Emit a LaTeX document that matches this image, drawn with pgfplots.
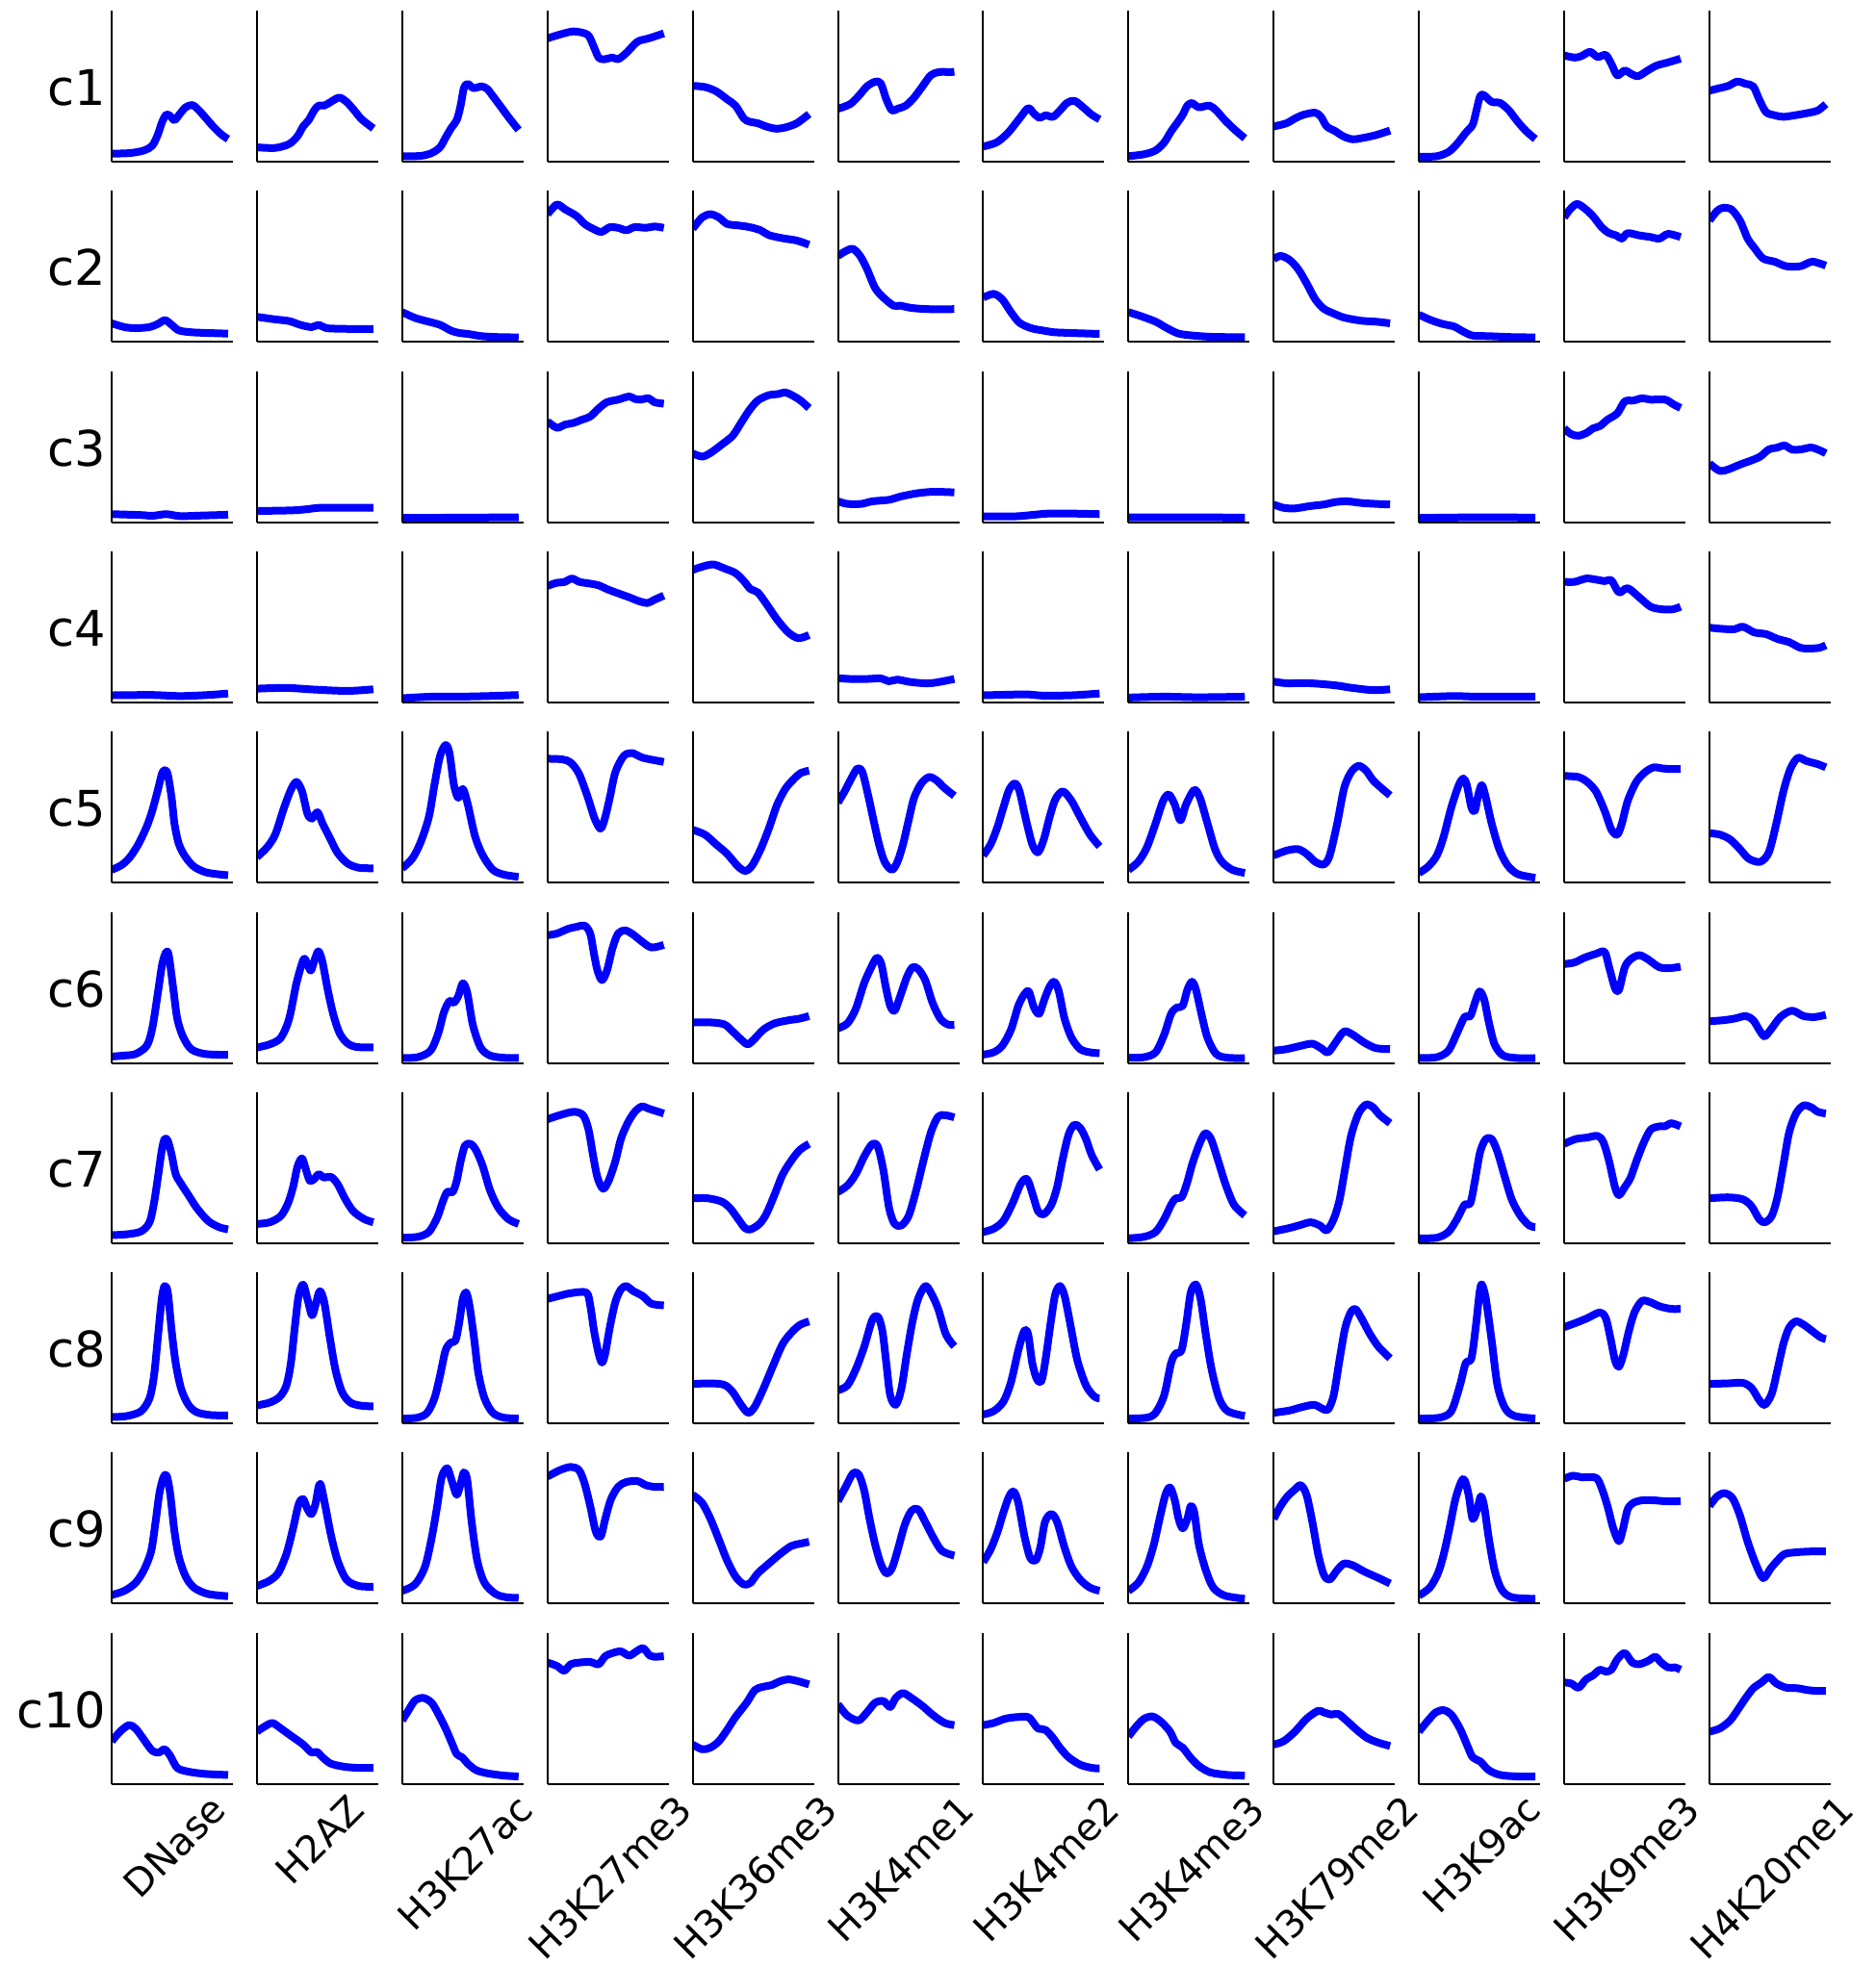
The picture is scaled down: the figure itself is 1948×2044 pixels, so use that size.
\documentclass[border=0pt]{standalone}
\usepackage{fontspec}
\setmainfont{DejaVu Sans}
\usepackage{pgfplots}
\pgfplotsset{compat=1.18}

\newcommand{\rowfont}{\fontsize{51}{60}\selectfont}
\newcommand{\colfont}{\fontsize{39.5}{47}\selectfont}

\pgfplotsset{
  panel/.style={
    scale only axis, width=126pt, height=157pt, anchor=north west,
    xmin=0, xmax=100, ymin=0, ymax=100,
    axis lines*=left, axis line style={black, line width=2pt, -},
    xtick=\empty, ytick=\empty, axis on top,
  },
  trace/.style={blue, line width=8pt, smooth, tension=0.5, mark=none, line join=round},
}

% one small panel: #1 column, #2 row, #3 profile (position in %, signal in % of panel height)
\newcommand{\panel}[3]{%
  \begin{axis}[panel, at={({(116+150.9*#1)*1pt},{-(11+187.3*#2)*1pt})}]
    \addplot[trace] coordinates {#3};
  \end{axis}}

\newcommand{\rowlab}[2]{%
  \node[anchor=base east, inner sep=0pt, font=\rowfont] at (110.5pt,{-(11+78.5+187.3*#1+20)*1pt}) {#2};}

% rotated column name, centred under its panel: #1 column, #2 text width in em, #3 text
\newcommand{\collab}[3]{%
  \node[rotate=45, anchor=center, inner sep=0pt, text height=30pt, text depth=9.5pt, font=\colfont]
    at ({(116+68+150.9*#1)*1pt},{-(1862+(#2/2+0.5)*0.7071*39.5)*1pt}) {#3};}

\begin{document}
\begin{tikzpicture}
\path[use as bounding box] (0,0) rectangle (1948pt,-2044pt);

% ---------------- c1
\panel{0}{0}{(0,5.3) (15.1,5.7) (26.6,7.4) (33.5,10.6) (38.1,18) (41.7,26.5) (45,31.1) (48.2,30.3) (51.8,27.5) (56.4,31.8) (61,36) (66.5,37.5) (71.1,34.7) (77.1,29.4) (83.9,23.1) (90.8,17.8) (96,15)}
\panel{1}{0}{(0,9.5) (15.1,9.1) (26.6,11.7) (33.5,16.9) (38.1,23.3) (42.7,27.5) (47.2,33.9) (50.9,37.1) (55.5,37.1) (61,39.6) (67.9,42.4) (73.9,39.6) (80.3,33.9) (86.2,28.2) (96,22)}
\panel{2}{0}{(0,3.6) (15.1,3.8) (24.3,5.7) (31.2,9.5) (35.8,15.9) (40.4,22.2) (45,27.5) (48.2,37.1) (50.9,48.7) (54.1,51.5) (58.7,48.7) (65.6,49.8) (70.2,48.1) (74.8,43.4) (81.7,36) (88.5,28.6) (96,21)}
\panel{3}{0}{(0,81.6) (10.1,84.1) (21.6,86.2) (33,84.1) (37.6,77.3) (42.2,68.9) (46.8,67.8) (53.7,68.9) (58.3,67.8) (65.1,72) (74.3,79.4) (83.5,81.6) (96,84.9)}
\panel{4}{0}{(0,50.2) (10.1,49.4) (19.3,46.6) (28.4,41.3) (35.3,37.1) (42.2,28.6) (46.8,26.5) (53.7,25.4) (60.6,23.3) (68.8,21.8) (76.6,22.7) (85.8,25.4) (96,31.5)}
\panel{5}{0}{(0,35) (10.1,38.1) (17,43.4) (23.9,49.8) (30.7,52.9) (35.3,51.9) (39.9,41.3) (44.5,33.9) (49.1,35) (56,37.1) (62.8,42.4) (69.7,49.8) (76.6,57.2) (83.5,59.3) (92.7,59.3) (96,59.5)}
\panel{6}{0}{(0,10) (11,12.7) (20.5,19.1) (30,28.6) (37.1,35.4) (41.9,31.8) (46.7,29) (51.4,30.7) (57.6,29.7) (63.3,33.9) (69,38.8) (75.2,40.3) (82.4,36) (89.5,31.1) (96,28)}
\panel{7}{0}{(0,3.6) (12.9,4.9) (22.4,7.4) (29.5,12.7) (35.2,20.1) (40,25.4) (44.8,31.1) (48.6,37.1) (52.4,38.8) (58.1,36) (66.7,37.1) (72.4,33.9) (79.5,27.5) (87.6,21.2) (96,15.5)}
\panel{8}{0}{(0,23.3) (10.5,25.4) (17.6,28.6) (24.8,31.1) (34.3,32.4) (39,29.7) (43.8,23.3) (51,20.1) (57.1,16.9) (65.2,14.8) (74.8,15.9) (84.3,17.6) (96,20.6)}
\panel{9}{0}{(0,3.2) (14.8,3.6) (24.3,6.4) (31.4,11.7) (38.6,19.1) (44.3,24.4) (47.1,32.8) (50.5,43.4) (53.8,43.9) (60,39.6) (67.1,38.8) (74.3,33.9) (81.4,26.5) (88.6,20.1) (96,15)}
\panel{10}{0}{(0,70.3) (8.6,68.9) (14.3,69.9) (21.4,72.7) (27.6,69.3) (34.3,70.6) (39,64.6) (43.8,57.2) (50,60.4) (54.8,58.3) (61,56.6) (69,60.4) (76.2,63.6) (85.7,65.7) (96,68.2)}
\panel{11}{0}{(0,47) (8.6,48.7) (15.7,50.2) (22.9,53) (30,51.5) (36.2,49.8) (41,41.3) (46.7,32.8) (53.8,30.7) (61,29.7) (70.5,30.7) (82.4,32.4) (89.5,33.9) (96,38.1)}

% ---------------- c2
\panel{0}{1}{(0,12.3) (10.6,9.8) (19.7,9.1) (31.2,9.8) (38.1,11.9) (44,14.4) (49.5,11.3) (55.5,7.6) (65.6,6.4) (79.4,5.9) (96,5.5)}
\panel{1}{1}{(0,16.6) (15.1,14.9) (26.6,13.8) (35.8,11.3) (45,9.8) (51,11.3) (57.3,9.1) (70.2,8.7) (84,8.5) (96,8.5)}
\panel{2}{1}{(0,19.7) (10.6,15.9) (19.7,13.8) (31.2,11.3) (40.4,7.4) (47.2,5.9) (54.1,5.3) (65.6,3.8) (79.4,3.2) (96,3)}
\panel{3}{1}{(0,84.5) (7.8,90.9) (14.7,87.7) (23.9,83.4) (30.7,78.1) (37.6,74.9) (44.5,72.8) (51.4,75.9) (58.3,75.5) (65.1,73.9) (72,76) (81.2,75.5) (88.1,76.4) (96,75.5)}
\panel{4}{1}{(0,74.9) (7.8,82.4) (14.7,84.5) (21.6,82.4) (28.4,78.1) (37.6,77.1) (46.8,76) (56,73.9) (62.8,70.7) (74.3,68.6) (85.8,67.1) (96,64.3)}
\panel{5}{1}{(0,56.9) (6.4,60.1) (12.4,61.6) (18.3,56.9) (23.9,48.4) (30.7,35.7) (37.6,29.3) (45.9,24) (51.4,24) (60.6,22.5) (74.3,21.7) (96,21.7)}
\panel{6}{1}{(0,29.3) (8.6,31.8) (15.7,28.2) (22.9,19.7) (30,12.7) (39.5,9.1) (49,7.6) (58.6,6.4) (72.9,5.9) (96,5.3)}
\panel{7}{1}{(0,19.7) (10.5,17) (22.4,13.4) (31.9,9.1) (41.4,5.5) (53.3,4.2) (67.6,3.4) (81.9,3.2) (96,3.2)}
\panel{8}{1}{(0,54.8) (5.7,56.9) (12.9,54.4) (20,48.4) (27.1,38.9) (34.3,28.2) (41.4,21.9) (48.6,19.1) (58.1,16.1) (72.4,14) (84.3,13.4) (96,12.3)}
\panel{9}{1}{(0,18) (10,14.4) (19.5,11.9) (29,10.2) (36.2,7) (44.3,4.2) (57.6,3.8) (76.7,3.2) (96,3)}
\panel{10}{1}{(0,82.4) (4.8,87.7) (10.5,91.3) (16.7,88.5) (23.8,83.2) (31,75.8) (37.1,72) (42.9,70.5) (47.6,68.4) (52.4,72) (61.9,70.5) (71.4,69.4) (78.6,68.4) (85.7,71.5) (96,69.4)}
\panel{11}{1}{(0,80.3) (6.2,86.6) (11,88.7) (18.1,87.7) (25.2,80.3) (31.4,68.6) (37.1,62.2) (44.3,55.2) (53.8,53.1) (63.3,50.1) (75.2,50.1) (84.8,53.1) (96,50.5)}

% ---------------- c3
\panel{0}{2}{(0,5.3) (24.3,4.7) (33.5,4.2) (45,5.3) (56.4,4) (74.8,4.4) (96,4.9)}
\panel{1}{2}{(0,7.4) (28.9,7.8) (40.4,8.5) (51.8,9.5) (70.2,9.5) (96,9.5)}
\panel{2}{2}{(0,2.8) (50,3) (96,3.2)}
\panel{3}{2}{(0,66.7) (7.8,62.5) (14.7,64.6) (21.6,65.7) (28.4,67.8) (35.3,69.9) (42.2,75.2) (49.1,79.4) (58.3,81.1) (67.4,83.2) (72,81.6) (76.6,81.1) (83.5,82) (88.1,79.4) (96,78.4)}
\panel{4}{2}{(0,45.5) (7.8,43.4) (14.7,45.8) (23.9,51.3) (33,57.2) (39.9,65.7) (46.8,74.2) (53.7,80.5) (62.8,84.1) (69.7,84.7) (76.6,85.8) (83.5,83.3) (89,80.5) (96,75.5)}
\panel{5}{2}{(0,13.8) (7.8,12.1) (19.3,12.1) (28.4,13.8) (42.2,14.8) (51.4,16.9) (65.1,19.1) (78.9,20.1) (96,19.7)}
\panel{6}{2}{(0,3.8) (25.2,3.8) (39.5,4.7) (53.8,5.7) (72.9,5.7) (96,5.3)}
\panel{7}{2}{(0,3.2) (50,3.2) (96,3)}
\panel{8}{2}{(0,11.7) (8.1,9.5) (17.6,9.1) (29.5,10.6) (41.4,11.7) (51,13.3) (60.5,13.8) (72.4,12.7) (84.3,12.1) (96,11.7)}
\panel{9}{2}{(0,2.8) (50,3.2) (96,3)}
\panel{10}{2}{(0,62.1) (5.7,58.3) (11.9,57.2) (19,59.3) (23.8,62.1) (29.5,63.6) (35.7,67.8) (43.8,72) (50,79.9) (57.1,80.5) (64.3,82) (71.4,81.1) (83.3,81.1) (90.5,77.8) (96,75.6)}
\panel{11}{2}{(0,38.8) (8.6,33.9) (15.7,35) (25.2,38.1) (34.8,40.9) (41.9,43.4) (49,48.1) (56.2,49.4) (61.9,50.8) (68.1,48.1) (75.2,48.1) (83.8,49.4) (90.5,47.7) (96,45.6)}

% ---------------- c4
\panel{0}{3}{(0,4.7) (33.5,4.9) (56.4,4.2) (79.4,4.9) (96,5.9)}
\panel{1}{3}{(0,9.1) (24.3,9.6) (47.2,8.5) (74.8,7.6) (96,8.7)}
\panel{2}{3}{(0,2.8) (24.3,3.8) (47.2,3.8) (70.2,4.2) (96,4.9)}
\panel{3}{3}{(0,77.1) (7.8,79.2) (13.8,79.6) (20.2,82) (26.1,79.8) (35.3,78.6) (42.2,77.5) (49.1,75) (58.3,72.2) (67.4,69.6) (75.2,67.1) (82.6,65.8) (88.1,67.9) (96,70.7)}
\panel{4}{3}{(0,87.7) (7.8,89.8) (17,91.3) (26.1,88.7) (35.3,85.6) (42.2,80.3) (47.7,75) (53.7,72.8) (60.6,65.4) (69.7,54.8) (78.9,46.3) (87.2,42.5) (96,44.6)}
\panel{5}{3}{(0,16.1) (10.1,15.5) (23.9,15.5) (35.3,15.9) (42.2,14) (49.1,15.1) (60.6,13.4) (76.6,12.7) (96,15.5)}
\panel{6}{3}{(0,4.7) (34.8,5.3) (49,4.5) (72.9,4.7) (96,5.9)}
\panel{7}{3}{(0,3.2) (29.5,3.8) (58.1,3.4) (96,3.8)}
\panel{8}{3}{(0,13.8) (10.5,12.7) (29.5,12.7) (51,11.3) (62.9,9.8) (81.9,8.1) (96,8.7)}
\panel{9}{3}{(0,3.4) (29,4.2) (48.1,3.8) (96,3.8)}
\panel{10}{3}{(0,79.8) (8.6,79.8) (18.1,82) (26.2,81.3) (33.3,80.3) (39,80.7) (45.2,72.8) (52.4,75.6) (61.9,69.6) (71.4,63.3) (81,61.6) (89.5,61.6) (96,63.3)}
\panel{11}{3}{(0,49.5) (8.6,48.8) (20.5,48.4) (27.6,50.1) (37.1,46.3) (46.7,45.2) (56.2,42) (65.7,39.9) (75.2,36.1) (83.8,35.7) (90.5,36.1) (96,37.8)}

% ---------------- c5
\panel{0}{4}{(0,8.5) (8.3,11.7) (15.1,16.9) (22,25.4) (28.9,37.1) (33.5,47.7) (38.1,61.4) (41.7,72.7) (44,74.4) (46.3,71.6) (49.5,55.7) (51.8,39) (55.5,25.4) (61,16.9) (67.9,10.6) (77.1,7) (86.2,5.7) (96,4.9)}
\panel{1}{4}{(0,16.9) (8.3,23.3) (15.1,31.8) (22,48.7) (28,61.4) (32.6,66.7) (37.2,60.4) (41.7,45.6) (45.4,42.4) (50,46.6) (54.1,39.2) (60.1,29.7) (66.5,19.7) (74.8,12.7) (83.9,9.9) (96,9.5)}
\panel{2}{4}{(0,9.5) (8.3,15.9) (15.1,26.5) (22,43.4) (26.6,64.6) (31.2,83.7) (35.8,91.1) (39,85.8) (42.7,64.6) (46.3,56.1) (50,62.1) (54.1,51.9) (60.1,30.7) (66.5,18) (74.8,8.5) (83.9,5.3) (96,3.8)}
\panel{3}{4}{(0,82) (12.4,81.6) (19.3,79.4) (26.1,72) (33,57.2) (38.5,43.4) (42.2,37.1) (44.5,36) (47.7,43.4) (51.4,56.1) (56,73) (62.8,83.7) (69.7,85.8) (78.9,82.6) (96,79.9)}
\panel{4}{4}{(0,35) (10.1,31.8) (19.3,25.4) (28.4,19.1) (37.6,10.6) (43.6,7.8) (49.1,11.4) (56,22) (62.8,35.8) (69.7,51.7) (76.6,62.3) (83.5,68.6) (89,72.5) (96,74.2)}
\panel{5}{4}{(0,53) (5.5,60.4) (11,68.9) (16.1,75.6) (20.2,73.1) (24.8,58.3) (29.4,41.3) (33.9,25.4) (38.5,13.8) (44.5,8.5) (49.1,13.8) (53.7,25.4) (58.3,41.3) (62.8,56.1) (68.8,65.7) (75.2,69.9) (81.2,67.8) (88.1,62.5) (96,57.5)}
\panel{6}{4}{(0,18) (6.2,25.4) (11.9,37.1) (16.7,49.8) (21.4,61.4) (26.2,65.7) (30,60.4) (34.8,43.4) (40.5,25.4) (45.2,20.1) (50,28.6) (54.8,43.4) (59.5,55.1) (65.7,60.4) (72.9,54.1) (80,43.4) (88.1,31.8) (96,24)}
\panel{7}{4}{(0,8.5) (8.1,13.8) (15.2,23.3) (22.4,39.2) (28.6,54.1) (33.3,58.3) (38.1,51.9) (42.9,41.3) (47.6,51.9) (54.3,61.4) (59,56.1) (65.2,39.2) (71.4,22.2) (77.1,13.8) (85.7,8.5) (96,6.4)}
\panel{8}{4}{(0,18) (10.5,21.2) (20,22.2) (27.1,19.1) (34.3,13.8) (41.4,12.1) (46.2,18) (52.4,39.2) (58.1,62.5) (63.8,73.1) (70,77.3) (76.2,74.2) (81.9,67.8) (89,62.5) (96,57.8)}
\panel{9}{4}{(0,6.4) (7.6,10.6) (14.8,18) (20.5,30.7) (26.7,49.8) (32.9,64.6) (36.7,68.9) (39.5,64.6) (43.3,49.8) (46.2,47.7) (49,58.3) (51.9,64.6) (55.2,56.1) (60,39.2) (66.2,22.2) (72.9,11.7) (81.4,5.7) (96,3.2)}
\panel{10}{4}{(0,70.6) (11.9,69.9) (19,66.7) (26.2,60.4) (33.3,47.7) (39,35) (43.8,31.8) (47.6,39.2) (52.4,54.1) (59.5,66.7) (66.7,73.1) (73.8,76.3) (81,75.6) (88.1,75.2) (96,75.2)}
\panel{11}{4}{(0,32.8) (8.6,31.8) (17.1,28.6) (25.2,22.2) (32.4,15.9) (41.9,13.8) (49,20.1) (55.2,39.2) (61,60.4) (66.7,75.2) (72.9,82.6) (80,80.5) (89.5,78.4) (96,76.3)}

% ---------------- c6
\panel{0}{5}{(0,4.2) (10.6,4.9) (19.7,5.9) (28.9,11.3) (33.5,22.9) (38.1,46.3) (41.7,65.4) (45,73.5) (47.2,70.7) (50.9,48.4) (54.1,29.3) (58.7,17.6) (65.6,9.1) (77.1,5.9) (96,5.3)}
\panel{1}{5}{(0,10.2) (10.6,12.3) (19.7,16.6) (26.6,29.3) (32.6,52.7) (38.5,68.6) (41.5,65.5) (44.5,61.1) (47.5,68) (50.7,73.9) (54,67) (58.5,48) (63,32) (68,20) (74,13.4) (81.7,10.6) (96,10.2)}
\panel{2}{5}{(0,3.2) (12.9,3.8) (23.4,8.1) (29.8,19.7) (34.4,33.5) (39,40.9) (42.7,39.9) (46.3,44.2) (50,52.7) (53.7,46.3) (58.3,25.1) (64.7,10.2) (72.5,4.9) (83.9,3.4) (96,3.2)}
\panel{3}{5}{(0,84.5) (7.8,85.6) (17,88.7) (24.8,90.2) (30.7,90.9) (35.3,85.6) (38.5,71.8) (41.3,61.1) (45,54.8) (49.1,61.1) (53.7,76) (58.3,85.6) (64.2,87.7) (70.6,85) (78,80.3) (85.8,76.4) (96,78.1)}
\panel{4}{5}{(0,26.8) (14.7,26.8) (26.1,25.5) (33,20.8) (39.9,15.5) (45.4,12.3) (50.5,15.5) (58.3,22) (67.4,26.1) (78.9,28.2) (88.1,29.3) (96,31)}
\panel{5}{5}{(0,22.9) (7.8,26.1) (14.7,35.7) (21.6,52.7) (27.5,63.3) (32.1,69.6) (35.8,65.4) (39.4,50.5) (43.1,37.8) (46.8,34.6) (51.4,44.2) (56.9,56.9) (61.5,63.3) (66.1,62.2) (72,54.8) (78,39.9) (84.4,29.3) (90.4,25.5) (96,25.1)}
\panel{6}{5}{(0,5.5) (8.6,7) (15.7,11.3) (22.9,21.9) (29,37.8) (33.8,45.2) (37.6,47.3) (41.9,36.7) (46.2,32.5) (50.5,42) (54.8,50.5) (58.6,53.7) (62.4,47.3) (67.1,29.3) (72.9,16.6) (80,9.1) (88.1,7) (96,6.4)}
\panel{7}{5}{(0,3.4) (12.9,3.8) (22.4,7) (29.5,18.7) (35.2,32.5) (40,36.7) (44.8,37.8) (48.6,48.4) (52.4,53.7) (55.7,48.4) (60.5,31.4) (65.2,16.6) (72.4,5.9) (81.9,3.4) (96,3.2)}
\panel{8}{5}{(0,8.1) (10.5,9.1) (22.4,11.3) (31.9,12.7) (39,9.8) (44.8,7) (51,13.4) (58.1,20.8) (65.2,18.7) (74.8,13.4) (84.3,9.8) (96,9.1)}
\panel{9}{5}{(0,3.2) (14.8,3.8) (24.3,8.1) (31.4,19.7) (37.6,30.3) (42.4,31) (46.2,39.9) (50,47.3) (53.8,42) (57.6,27.2) (62.4,12.3) (69.5,4.9) (81.4,3.2) (96,3.2)}
\panel{10}{5}{(0,65.4) (8.6,66.5) (16.7,69.6) (26.2,72.2) (33.3,73.5) (37.1,63.3) (41.9,49.5) (45.2,48.4) (50,63.3) (54.8,68.6) (61.9,71.3) (69,68.6) (78.6,63.3) (88.1,62.8) (96,63.7)}
\panel{11}{5}{(0,27.6) (11,28.2) (20.5,29.3) (30,31) (36.2,28.2) (41.9,20.8) (45.7,17.6) (51.4,22.9) (58.6,30.4) (68.1,34.6) (77.6,31) (87.1,30.4) (96,31.8)}

% ---------------- c7
\panel{0}{6}{(0,5.3) (12.8,5.9) (24.3,7.8) (31.2,13.8) (34.9,26.5) (38.1,43.4) (41.3,61.4) (43.6,68.9) (46.3,67.8) (49.5,58.3) (52.8,45.6) (57.3,39.2) (63.3,31.8) (70.2,23.3) (79.4,14.8) (88.5,10.6) (96,9.1)}
\panel{1}{6}{(0,12.7) (10.6,13.8) (19.7,18) (25.7,26.5) (29.8,37.1) (33.5,50.8) (37.2,56.1) (40.4,48.7) (43.6,41.3) (47.2,42.4) (50.9,45.6) (55.5,43.4) (61,43.9) (66.5,39.2) (72.5,29.7) (79.4,21.2) (88.5,15.9) (96,13.8)}
\panel{2}{6}{(0,3.6) (12.8,4.2) (22,7.4) (28.9,16.9) (33.5,27.5) (37.2,33.9) (41.7,33.9) (45,41.3) (48.2,54.1) (51.8,64.6) (56.4,65.7) (61,61.4) (66.5,50.8) (72.5,34.9) (79.4,23.3) (87.6,15.9) (96,12.7)}
\panel{3}{6}{(0,82) (10.1,84.7) (21.6,86.9) (29.4,84.7) (33.9,75.2) (37.6,58.3) (41.3,43.4) (45.9,36) (50.5,41.3) (56,54.1) (60.6,68.9) (66.1,79.4) (72,86.9) (78,90.5) (83.5,89) (96,85.8)}
\panel{4}{6}{(0,29.7) (12.4,29.7) (23.9,27.5) (30.7,23.3) (37.6,15.9) (43.1,10) (47.7,9.1) (55,12.7) (60.6,19.1) (67.4,31.8) (74.3,45.6) (82.6,56.1) (89,62.1) (96,65.7)}
\panel{5}{6}{(0,33.9) (7.8,38.1) (14.7,45.6) (21.6,57.2) (28.4,65.7) (33,63.6) (37.6,47.7) (42.2,23.3) (46.8,12.7) (52.3,11.7) (58.3,18) (64.2,33.9) (69.7,51.9) (76.6,73.1) (82.6,83.7) (88.1,84.7) (96,83.3)}
\panel{6}{6}{(0,7.4) (8.6,9.5) (16.7,14.8) (24.3,26.5) (31,39.2) (36.2,42.4) (41,31.8) (45.2,21.2) (50,19.1) (56.2,25.4) (61,37.1) (65.7,56.1) (70.5,72) (75.2,78.4) (80,76.3) (84.8,68.9) (89.5,58.3) (96,48.7)}
\panel{7}{6}{(0,3.2) (12.9,4.2) (22.4,7.4) (29.5,15.9) (35.2,25.4) (39,29.7) (43.8,30.3) (48.1,39.2) (52.9,53) (58.6,65.7) (63.3,72.7) (68.1,68.9) (73.8,55.1) (80,39.2) (87.1,25.4) (96,18.4)}
\panel{8}{6}{(0,7.8) (12.9,10) (22.4,12.1) (30.5,13.8) (38.1,11.7) (43.8,8.5) (49.5,15.9) (54.3,28.6) (59,49.8) (63.8,71) (70,85.8) (76.2,91.7) (81.9,90) (87.6,84.7) (96,79.4)}
\panel{9}{6}{(0,3.2) (14.8,3.6) (24.3,7.4) (31.4,15.9) (37.6,25.4) (42.4,26.5) (46.2,41.3) (50.5,60.4) (55.2,68.9) (60,68.9) (64.8,60.4) (71,43.4) (76.7,28.6) (83.8,18) (91,11.7) (96,10.6)}
\panel{10}{6}{(0,65.7) (9.5,68.9) (19,69.9) (27.6,71) (32.4,66.7) (37.1,54.1) (41.9,37.1) (45.2,31.8) (50,37.1) (54.8,43.4) (59.5,54.1) (65.7,66.7) (71.4,75.2) (78.6,77.3) (83.3,77.3) (88.1,79.4) (96,77.3)}
\panel{11}{6}{(0,29.7) (15.7,30.3) (27.6,29) (34.8,24.4) (41,15.9) (45.7,13.8) (51.4,18) (56.2,30.7) (61,51.9) (65.7,73.1) (71.4,85.8) (77.6,91.1) (83.8,90) (89.5,86.9) (96,85.8)}

% ---------------- c8
\panel{0}{7}{(0,4.2) (12.8,4.9) (24.3,8.1) (31.2,16.6) (34.9,31.4) (38.1,56.9) (41.3,82.4) (43.6,90.9) (46.3,86.6) (49.5,61.1) (52.8,39.9) (57.3,22.9) (63.3,12.3) (70.2,7.4) (81.7,5.5) (96,5.3)}
\panel{1}{7}{(0,11.9) (10.6,13.8) (18.8,17.6) (24.3,25.1) (28,39.9) (31.2,63.3) (34.4,84.5) (38.1,91.9) (41.7,82.2) (45.4,71.5) (48.2,77.9) (51.8,87.5) (55.5,80.3) (60.1,56.9) (64.7,35.7) (70.2,20.8) (77.1,13.8) (86.2,11.7) (96,11.3)}
\panel{2}{7}{(0,3.2) (12.8,3.8) (20.6,7) (26.6,16.6) (31.2,31.4) (35.8,48.4) (40.4,53.7) (44,54.8) (47.2,67.5) (50,82.4) (52.8,86.6) (55.5,78.1) (59.2,56.9) (62.8,33.5) (67.9,16.6) (74.8,7) (83.9,3.8) (96,3.2)}
\panel{3}{7}{(0,82.4) (10.1,84.5) (19.3,86.2) (32.1,86.6) (35.3,78.1) (38.5,61.1) (42.2,46.3) (45,40.3) (47.7,46.3) (51.4,63.3) (56,80.3) (60.6,88.7) (65.1,90.9) (70.6,87.7) (78.9,84.1) (85.8,79.2) (96,78.1)}
\panel{4}{7}{(0,26.1) (14.7,26.5) (26.1,25.5) (33,20.8) (39.9,12.3) (45.9,7) (51.4,11.3) (58.3,22.9) (66.1,37.8) (74.3,52.7) (82.6,61.1) (89,65.4) (96,67.5)}
\panel{5}{7}{(0,21.9) (7.8,25.1) (14.7,35.7) (21.6,50.5) (28.4,68.6) (33,70.7) (36.7,61.1) (39.9,39.9) (43.1,18.7) (47.7,12.3) (52.3,22.9) (56.9,46.3) (61.5,67.5) (66.1,82.4) (72,90.9) (76.6,86.6) (82.6,76) (89,59) (96,51)}
\panel{6}{7}{(0,5.9) (8.6,8.1) (16.7,14.4) (22.9,27.2) (29,48.4) (33.8,61.1) (37.1,59) (40.5,39.9) (44.3,29.3) (48.1,28.2) (51.4,42) (56.2,69.6) (59.5,85.6) (63.3,90.9) (67.1,84.5) (71.9,65.4) (77.6,42) (84.8,25.1) (91.9,17.6) (96,16.6)}
\panel{7}{7}{(0,3.2) (15.2,3.8) (22.4,7) (29.5,18.7) (35.2,39.9) (39,46.3) (43.8,48.4) (47.6,65.4) (51.4,86.6) (55.7,91.9) (59.5,82.4) (63.8,59) (68.6,35.7) (74.8,16.6) (81.9,8.1) (96,4.9)}
\panel{8}{7}{(0,7) (12.9,8.5) (22.4,10.6) (33.3,12.3) (40,9.8) (44.8,9.1) (49.5,18.7) (54.3,42) (59,63.3) (63.8,73.9) (67.6,75.6) (72.4,69.6) (79.5,59) (86.7,50.5) (96,43.1)}
\panel{9}{7}{(0,3.2) (17.1,3.8) (26.7,8.1) (33.8,25.1) (38.6,39.9) (43.3,43.1) (47.1,65.4) (50,86.6) (51.9,91.9) (55.2,82.4) (60,54.8) (64.8,25.1) (71,10.2) (79,4.9) (96,3.2)}
\panel{10}{7}{(0,63.7) (9.5,66.5) (19,69.6) (29.5,73.5) (34.3,69.6) (38.1,56.7) (41.9,41.8) (45.2,37.6) (49,46) (53.3,60.9) (58.1,73.7) (64.3,81.1) (71.4,80.1) (78.6,77.5) (88.1,75.8) (96,75.8)}
\panel{11}{7}{(0,26.1) (15.7,26.5) (27.6,26.8) (34.8,23.4) (41,15.5) (45.7,12.3) (51.4,19.7) (56.2,35.7) (61,52.7) (65.7,63.3) (71.4,67.5) (77.6,65.4) (84.8,61.1) (91.9,56.9) (96,55.8)}

% ---------------- c9
\panel{0}{8}{(0,5.7) (10.6,8.5) (19.7,13.8) (26.6,22.2) (32.6,34.9) (36.2,54.1) (39.4,73.1) (42.7,83.7) (45.4,84.7) (48.2,73.1) (51.8,47.7) (55.5,30.7) (61,18) (67.9,10.6) (79.4,6.4) (96,4.9)}
\panel{1}{8}{(0,11.7) (9.6,14.8) (17.4,20.1) (24.3,32.8) (29.8,49.8) (34.4,65.7) (38.1,69.3) (41.7,62.5) (45,59.3) (48.2,65.7) (50.9,77.3) (52.8,78.4) (56.4,64.6) (61,45.6) (66.5,28.6) (73.9,15.9) (83.9,11.7) (96,11.2)}
\panel{2}{8}{(0,8.5) (10.6,12.7) (18.8,24.4) (24.3,43.4) (28.9,64.6) (32.6,83.7) (37.2,89.6) (40.8,81.6) (45,72) (48.2,79.4) (50.9,86.9) (53.7,81.6) (57.3,54.1) (61.9,28.6) (67.9,13.8) (77.1,6.4) (86.2,4.2) (96,3.8)}
\panel{3}{8}{(0,84.1) (10.1,88.3) (19.3,90.5) (26.1,88.3) (30.7,79.4) (35.3,64.6) (39.9,47.7) (44,44.5) (47.7,56.1) (52.3,68.9) (58.3,77.3) (65.1,80.5) (74.3,81.1) (81.2,78.4) (88.1,77.3) (96,77.3)}
\panel{4}{8}{(0,72) (7.8,66.7) (14.7,56.1) (21.6,42.4) (28.4,28.6) (35.3,18) (42.2,12.7) (47.7,13.8) (53.7,20.1) (62.8,26.5) (72,32.8) (81.2,38.1) (88.1,39.6) (96,40.9)}
\panel{5}{8}{(0,67.8) (6.4,77.3) (12.4,86.2) (17,85.8) (21.6,75.2) (26.1,56.1) (30.7,39.2) (35.3,26.5) (39.9,20.1) (44.5,23.3) (49.1,34.9) (55,51.9) (60.6,61.4) (66.1,62.5) (72,54.1) (78.9,43.4) (85.8,34.9) (96,31.8)}
\panel{6}{8}{(0,27.5) (6.2,36) (11.9,47.7) (16.7,60.4) (21.4,71) (25.2,74.2) (29,66.7) (33.8,45.6) (38.6,30.7) (43.3,28.6) (47.1,37.1) (51,54.1) (56.2,59.3) (61,54.1) (67.1,37.1) (72.9,24.4) (80,15.9) (88.1,10.6) (96,8.5)}
\panel{7}{8}{(0,8.5) (8.1,13.8) (15.2,24.4) (21,39.2) (25.7,56.1) (30.5,72) (34.3,76.9) (38.1,68.9) (41.4,56.1) (44.8,49.8) (48.6,56.1) (51.4,64.6) (54.3,60.4) (58.1,39.2) (63.8,22.2) (70,10.6) (79.5,5.3) (96,3.2)}
\panel{8}{8}{(0,56.1) (5.7,64.6) (11.4,71) (17.6,75.6) (22.4,78.4) (27.1,72) (31.9,54.1) (36.7,32.8) (41.4,19.1) (46.2,15.9) (52.4,22.2) (58.1,26.5) (65.2,25.4) (74.8,21.2) (86.7,16.9) (96,13.3)}
\panel{9}{8}{(0,5.3) (9,10.6) (15.7,20.1) (20.5,32.8) (25.2,49.8) (30,68.9) (34.8,80.5) (37.6,82) (41,72) (44.3,56.1) (48.1,62.5) (51,71) (53.8,64.6) (57.6,43.4) (62.4,22.2) (68.1,9.5) (76.7,4.2) (96,3.2)}
\panel{10}{8}{(0,82.6) (7.1,84.7) (14.3,83.7) (26.2,83.3) (31,76.3) (35.7,64.6) (40.5,49.8) (45.2,41.3) (48.6,49.8) (52.4,62.5) (57.1,66.7) (64.3,68.4) (73.8,68.4) (83.3,67.8) (96,67.8)}
\panel{11}{8}{(0,64.6) (6.2,70.9) (12.4,73.1) (19,69.9) (25.2,58.3) (31.4,41.3) (38.1,26.5) (44.3,16.9) (50.5,23.3) (56.2,28.6) (61.9,32.8) (70.5,33.9) (82.4,34.5) (96,34.5)}

% ---------------- c10
\panel{0}{9}{(0,28.2) (6.9,34.6) (14.2,38.9) (19.7,36.7) (26.6,29.3) (33.5,21.9) (39,20.8) (43.6,22.9) (48.2,18.7) (54.1,10.6) (63.3,8.1) (77.1,6.6) (96,5.9)}
\panel{1}{9}{(0,34.6) (6,37.8) (12.8,40.3) (19.7,36.7) (28.9,31.4) (38.1,26.1) (45,20.8) (49.5,21.2) (54.1,17.6) (61,13.4) (72.5,11.3) (83.9,10.6) (96,10.6)}
\panel{2}{9}{(0,42) (5,48.4) (10.6,55.2) (17.4,56.9) (24.3,53.7) (29.8,46.3) (35.8,36.7) (40.4,28.2) (45,19.7) (49.5,17.6) (54.1,13.4) (61,9.1) (70.2,7) (83.9,5.5) (96,4.9)}
\panel{3}{9}{(0,80.3) (7.8,78.1) (13.8,74.9) (19.3,79.2) (26.1,80.3) (35.3,80.7) (42.2,79.2) (47.7,84.5) (53.7,86.6) (60.6,87.7) (67.4,84.9) (73.4,87.7) (78.9,89.8) (84.4,84.9) (88.1,84.1) (96,84.5)}
\panel{4}{9}{(0,26.1) (7.8,22.9) (14.7,24) (21.6,28.2) (28.4,35.7) (35.3,44.2) (44.5,53.7) (51.4,62.2) (58.3,64.3) (65.1,65.4) (72,67.9) (78.9,69.2) (87.2,67.9) (96,65.8)}
\panel{5}{9}{(0,52.7) (7.8,45.2) (17,42) (23.9,47.3) (30.7,53.7) (37.6,54.8) (43.1,50.9) (47.7,56.9) (53.7,60.1) (60.6,56.9) (69.7,51.6) (78.9,45.2) (88.1,40.3) (96,38.9)}
\panel{6}{9}{(0,38.9) (8.6,40.3) (18.1,43.1) (27.6,44.2) (37.1,44.2) (41.9,39.9) (45.2,36.7) (51.4,35.7) (57.6,30.4) (63.3,24) (70.5,17.6) (80,12.7) (89.5,10.6) (96,10.2)}
\panel{7}{9}{(0,31.4) (6.7,38.2) (12.9,43.1) (20,44.6) (27.1,41) (34.3,34.6) (39,27.2) (44.8,24) (51,17.6) (58.1,11.9) (67.6,7.6) (81.9,5.9) (96,5.5)}
\panel{8}{9}{(0,26.1) (8.1,28.2) (17.6,34.6) (27.1,43.1) (36.7,48.4) (41.4,47.3) (47.6,45.9) (53.3,46.3) (60.5,41.6) (68.6,35.7) (77.1,30.4) (86.7,27.2) (96,25.1)}
\panel{9}{9}{(0,34.6) (7.6,42) (13.8,47.3) (20.5,48.8) (26.7,45.9) (33.8,36.7) (39.5,26.1) (44.3,17.6) (50.5,14.9) (57.6,9.1) (67.1,5.9) (81.4,4.9) (96,4.9)}
\panel{10}{9}{(0,67.1) (5.7,66.5) (11.9,63.7) (18.1,69.2) (23.8,71.8) (29.5,75.6) (34.3,74.3) (39,75.6) (43.8,82.4) (50,86.6) (56.2,80.3) (61.9,79.2) (69,81.3) (75.2,84.1) (80,80.3) (85.7,77.1) (91.4,77.1) (96,75.6)}
\panel{11}{9}{(0,34.6) (8.6,36.7) (17.1,42) (23.8,49.5) (30,56.9) (36.2,63.3) (42.9,67.1) (49,70.7) (55.2,66.5) (63.3,63.7) (72.9,63.3) (80,62.2) (87.1,61.6) (96,61.6)}

% row names
\rowlab{0}{c1}
\rowlab{1}{c2}
\rowlab{2}{c3}
\rowlab{3}{c4}
\rowlab{4}{c5}
\rowlab{5}{c6}
\rowlab{6}{c7}
\rowlab{7}{c8}
\rowlab{8}{c9}
\rowlab{9}{c10}

% mark names (second argument: advance width in em)
\collab{0}{3.267}{DNase}
\collab{1}{2.757}{H2AZ}
\collab{2}{4.479}{H3K27ac}
\collab{3}{5.541}{H3K27me3}
\collab{4}{5.541}{H3K36me3}
\collab{5}{4.905}{H3K4me1}
\collab{6}{4.905}{H3K4me2}
\collab{7}{4.905}{H3K4me3}
\collab{8}{5.541}{H3K79me2}
\collab{9}{3.843}{H3K9ac}
\collab{10}{4.905}{H3K9me3}
\collab{11}{5.541}{H4K20me1}
\end{tikzpicture}
\end{document}
